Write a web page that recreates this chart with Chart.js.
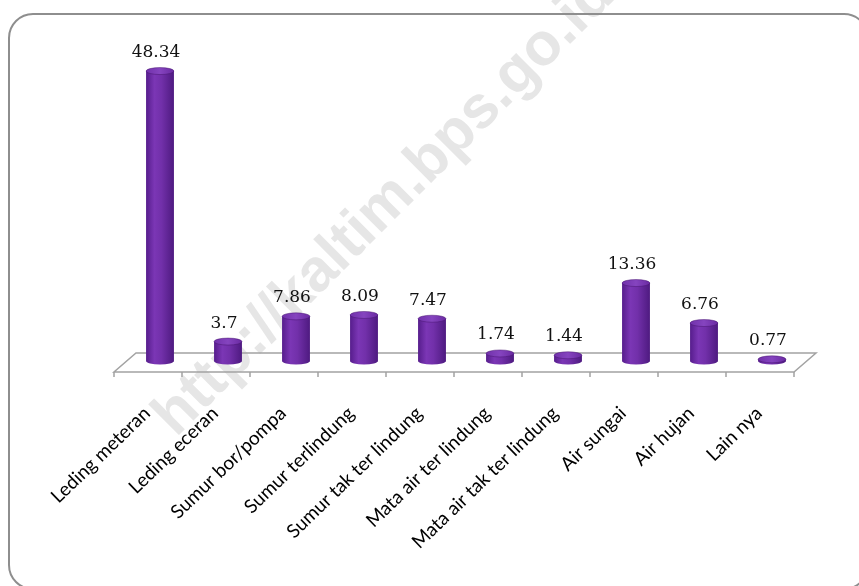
<!DOCTYPE html>
<html>
<head>
<meta charset="utf-8">
<script src="https://cdn.jsdelivr.net/npm/chart.js@4/dist/chart.umd.min.js"></script>
<style>
  html, body { margin: 0; padding: 0; background: #ffffff; }
  #wrap { position: relative; width: 859px; height: 586px; }
</style>
</head>
<body>
<div id="wrap"><canvas id="chart"></canvas></div>
<script>
// Sumber air minum (persen)
const categories = [
  'Leding meteran', 'Leding eceran', 'Sumur bor/pompa', 'Sumur terlindung',
  'Sumur tak ter lindung', 'Mata air ter lindung', 'Mata air tak ter lindung',
  'Air sungai', 'Air hujan', 'Lain nya'
];
const values = [48.34, 3.7, 7.86, 8.09, 7.47, 1.74, 1.44, 13.36, 6.76, 0.77];
const valueLabels = ['48.34', '3.7', '7.86', '8.09', '7.47', '1.74', '1.44', '13.36', '6.76', '0.77'];
const watermarkText = 'http://kaltim.bps.go.id';

// Frame, watermark and 3D floor drawn under the scales and bars
const backdrop = {
  id: 'backdrop',
  beforeDraw(chart) {
    const ctx = chart.ctx;
    ctx.save();
    // watermark
    ctx.translate(176, 438);
    ctx.rotate(-Math.PI / 4);
    ctx.font = 'bold 60px "Liberation Sans", Arial, sans-serif';
    ctx.fillStyle = '#e6e6e6';
    ctx.textAlign = 'left';
    ctx.textBaseline = 'alphabetic';
    ctx.fillText(watermarkText, 0, 0);
    ctx.restore();

    // rounded outer frame
    ctx.save();
    ctx.beginPath();
    ctx.roundRect(9, 14, 859, 575, 24);
    ctx.strokeStyle = '#8e8e8e';
    ctx.lineWidth = 2;
    ctx.stroke();
    ctx.restore();
  },
  beforeDatasetsDraw(chart) {
    const ctx = chart.ctx;
    const a = chart.chartArea;
    const n = chart.data.labels.length;
    const step = (a.right - a.left) / n;
    const fy = a.bottom + 8, by = a.bottom - 11;
    const fdx = -12, bdx = 10;
    ctx.save();
    ctx.strokeStyle = '#a3a3a3';
    ctx.lineWidth = 1.5;
    ctx.beginPath();
    ctx.moveTo(a.left + fdx, fy);
    ctx.lineTo(a.right + fdx, fy);
    ctx.lineTo(a.right + bdx, by);
    ctx.lineTo(a.left + bdx, by);
    ctx.closePath();
    ctx.stroke();
    ctx.beginPath();
    for (let i = 0; i <= n; i++) {
      const x = a.left + fdx + i * step;
      ctx.moveTo(x, fy);
      ctx.lineTo(x, fy + 5);
    }
    ctx.stroke();
    ctx.restore();
  }
};

// Cylinders and value labels, placed from the bar elements
const cylinders = {
  id: 'cylinders',
  afterDatasetsDraw(chart) {
    const ctx = chart.ctx;
    const meta = chart.getDatasetMeta(0);
    meta.data.forEach((bar, i) => {
      const cx = bar.x, w = bar.width, rx = w / 2, ry = 3.5;
      const top = bar.y;
      const bot = bar.base - 3;
      const g = ctx.createLinearGradient(cx - rx, 0, cx + rx, 0);
      g.addColorStop(0, '#561d8c');
      g.addColorStop(0.3, '#7b36b5');
      g.addColorStop(0.55, '#7230aa');
      g.addColorStop(1, '#4e1a80');
      ctx.save();
      ctx.beginPath();
      ctx.moveTo(cx - rx, top);
      ctx.lineTo(cx - rx, bot);
      ctx.ellipse(cx, bot, rx, ry, 0, Math.PI, 0, true);
      ctx.lineTo(cx + rx, top);
      ctx.closePath();
      ctx.fillStyle = g;
      ctx.fill();
      const tg = ctx.createLinearGradient(cx - rx, 0, cx + rx, 0);
      tg.addColorStop(0, '#7131ab');
      tg.addColorStop(0.5, '#8544bf');
      tg.addColorStop(1, '#6a2aa2');
      ctx.beginPath();
      ctx.ellipse(cx, top, rx, ry, 0, 0, Math.PI * 2);
      ctx.fillStyle = tg;
      ctx.fill();
      ctx.strokeStyle = 'rgba(70,20,110,0.6)';
      ctx.lineWidth = 0.8;
      ctx.stroke();

      ctx.font = '17px "DejaVu Serif", serif';
      ctx.fillStyle = '#111111';
      ctx.textAlign = 'center';
      ctx.textBaseline = 'alphabetic';
      ctx.fillText(valueLabels[i], cx - 4, top - 14);
      ctx.restore();
    });
  }
};

new Chart(document.getElementById('chart'), {
  type: 'bar',
  data: {
    labels: categories,
    datasets: [{
      data: values,
      backgroundColor: 'rgba(0,0,0,0)',
      borderWidth: 0,
      categoryPercentage: 1,
      barPercentage: 0.41
    }]
  },
  options: {
    responsive: true,
    maintainAspectRatio: false,
    animation: false,
    layout: { padding: { left: 126, right: 53, top: 61, bottom: 0 } },
    plugins: { legend: { display: false }, tooltip: { enabled: false } },
    scales: {
      y: { display: false, min: 0, max: 50 },
      x: {
        grid: { display: false },
        border: { display: false },
        afterFit(scale) { scale.height = 222; },
        ticks: {
          autoSkip: false,
          maxRotation: 44,
          minRotation: 44,
          padding: 30,
          labelOffset: -13,
          color: '#000000',
          font: { family: 'Lato', size: 19 }
        }
      }
    }
  },
  plugins: [backdrop, cylinders]
});
</script>
</body>
</html>
